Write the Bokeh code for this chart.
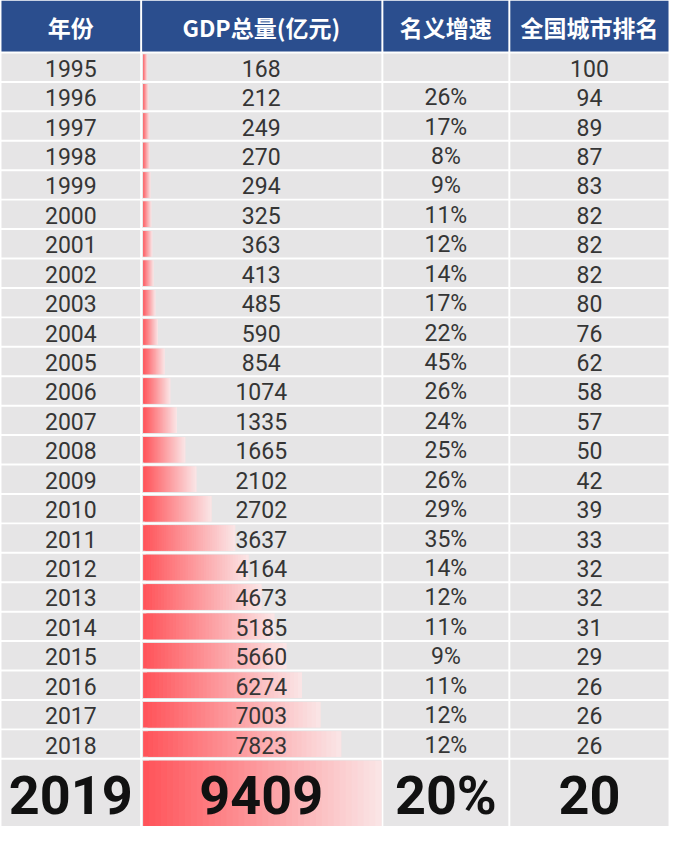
from bokeh.plotting import figure
from bokeh.models import Range1d, ColumnDataSource
from bokeh.core.properties import value
from bokeh.embed import file_html
from bokeh.resources import INLINE

# ---------------- data ----------------
years = [1995, 1996, 1997, 1998, 1999, 2000, 2001, 2002, 2003, 2004, 2005, 2006,
         2007, 2008, 2009, 2010, 2011, 2012, 2013, 2014, 2015, 2016, 2017, 2018]
gdp = [168, 212, 249, 270, 294, 325, 363, 413, 485, 590, 854, 1074,
       1335, 1665, 2102, 2702, 3637, 4164, 4673, 5185, 5660, 6274, 7003, 7823]
growth = [None, 26, 17, 8, 9, 11, 12, 14, 17, 22, 45, 26,
          24, 25, 26, 29, 35, 14, 12, 11, 9, 11, 12, 12]
rank = [100, 94, 89, 87, 83, 82, 82, 82, 80, 76, 62, 58,
        57, 50, 42, 39, 33, 32, 32, 31, 29, 26, 26, 26]
headers = ["年份", "GDP总量(亿元)", "名义增速", "全国城市排名"]
last_year, last_gdp, last_growth, last_rank = 2019, 9409, 20, 20

# ---------------- layout / style ----------------
W, H = 685, 842
col_edges = [0, 144, 391, 521, 685]
col_cx = [72, 267, 456, 603]
header_h = 53
row_h = 30
body_top = header_h
last_top = body_top + len(years) * row_h + 1
blue = "#2b4e8e"
cell_bg = "#e6e5e6"
txt_col = "#353535"
num_font = value("Roboto")
cjk_font = value("Noto Sans CJK SC")

p = figure(width=669, height=826, x_range=Range1d(0, W), y_range=Range1d(H, 0),
           output_backend="svg", toolbar_location=None,
           x_axis_location=None, y_axis_location=None,
           min_border=0, min_border_left=0, min_border_right=0,
           min_border_top=0, min_border_bottom=0)
p.grid.visible = False
p.outline_line_color = None
p.background_fill_color = "white"
p.border_fill_color = "white"

# gdp scale: 0 -> x=146, max -> x=390
gmax = max(gdp + [last_gdp])
span = gmax * W / (390 - 146)
s0 = -span * 146 / W
p.extra_x_ranges = {"gdp": Range1d(s0, s0 + span)}

# header cells
p.quad(left=[c + 1 for c in col_edges[:-1]], right=[c - 1 for c in col_edges[1:]],
       top=[0] * 4, bottom=[header_h - 1] * 4, fill_color=blue, line_color=None)

# body cells
L, R, T, B = [], [], [], []
n = len(years)
for i in range(n + 1):
    top = body_top + i * row_h + 1
    bot = top + row_h - 2 if i < n else H
    for c in range(4):
        L.append(col_edges[c] + 1); R.append(col_edges[c + 1] - 1)
        T.append(top); B.append(bot)
p.quad(left=L, right=R, top=T, bottom=B, fill_color=cell_bg, line_color=None)

# gradient bars (overlapping segments to avoid seams)
c0 = (255, 84, 90)
c1 = (250, 228, 229)
NSEG = 40
bl, br, bt, bb, bc = [], [], [], [], []
vals = gdp + [last_gdp]
for i, v in enumerate(vals):
    top = body_top + i * row_h + 2
    bot = top + row_h - 4 if i < n else H
    for k in range(NSEG):
        f = k / (NSEG - 1)
        col = tuple(int(round(c0[j] + (c1[j] - c0[j]) * f)) for j in range(3))
        bl.append(v * k / NSEG)
        br.append(v * min(k + 2, NSEG) / NSEG)
        bt.append(top); bb.append(bot)
        bc.append("#%02x%02x%02x" % col)
p.quad(left=bl, right=br, top=bt, bottom=bb, fill_color=bc, line_color=None,
       x_range_name="gdp")

# header text
p.text(x=col_cx, y=[header_h / 2 + 1] * 4, text=headers, text_align="center",
       text_baseline="middle", text_font=cjk_font, text_font_style="bold",
       text_font_size="23px", text_color="white")

# body text
ys = [body_top + i * row_h + row_h / 2 + 1 for i in range(n)]
src = ColumnDataSource(dict(
    y=ys,
    year=[str(y) for y in years],
    gdp=[str(g) for g in gdp],
    growth=["" if g is None else f"{g}%" for g in growth],
    rank=[str(r) for r in rank],
))
for cx, field in zip(col_cx, ["year", "gdp", "growth", "rank"]):
    p.text(x=cx, y="y", text=field, source=src, text_align="center",
           text_baseline="middle", text_font=num_font, text_font_size="23px",
           text_color=txt_col)

# last row (2019)
ly = (last_top + H) / 2 + 2
p.text(x=col_cx, y=[ly] * 4,
       text=[str(last_year), str(last_gdp), f"{last_growth}%", str(last_rank)],
       text_align="center", text_baseline="middle", text_font=num_font,
       text_font_style="bold", text_font_size="54px", text_color="#111111")

open("out.html", "w").write(file_html(p, INLINE))
